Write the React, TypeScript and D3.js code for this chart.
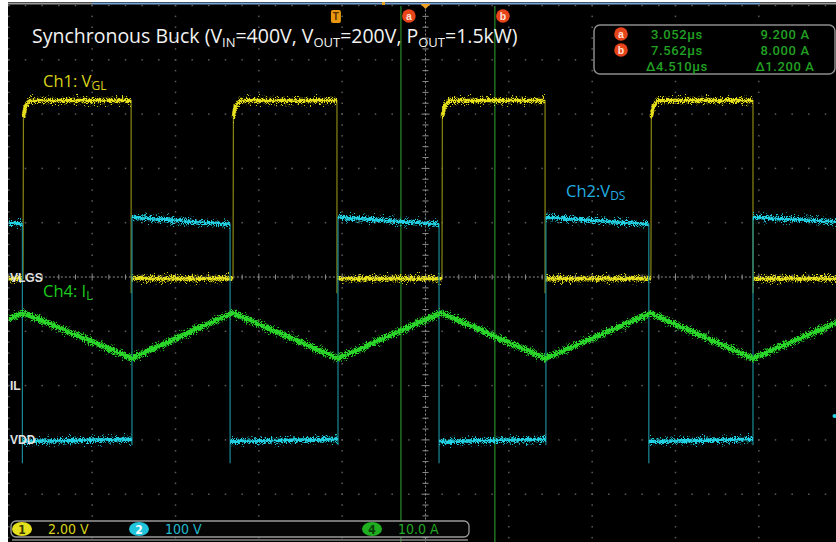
import React from 'react';
import * as d3 from 'd3';

// ---------------- DATA ----------------
// Horizontal: 4 µs/div, 10 divisions, trigger at centre
const timeDomain = [-20, 20];
// Vertical scales (units/div) and ground-marker offsets (div)
const ch1PerDiv = 2;    // V/div
const ch2PerDiv = 100;  // V/div
const ch4PerDiv = 10;   // A/div
const ch1Offset = 0;
const ch2Offset = -3;
const ch4Offset = -2;

// Ch1: V_GL (V) vs time (µs)
const vglT = [-20, -19.32, -19.30, -19.2, -18.97, -14.13, -14.13, -14.12,
  -9.24, -9.22, -9.12, -8.89, -4.25, -4.25, -4.24,
  0.79, 0.81, 0.91, 1.14, 5.74, 5.74, 5.75,
  10.82, 10.84, 10.94, 11.17, 15.72, 15.72, 15.73, 20];
const vglV = [-0.06, -0.06, 5.9, 6.3, 6.5, 6.5, -0.6, -0.06,
  -0.06, 5.9, 6.3, 6.5, 6.5, -0.6, -0.06,
  -0.06, 5.9, 6.3, 6.5, 6.5, -0.6, -0.06,
  -0.06, 5.9, 6.3, 6.5, 6.5, -0.6, -0.06, -0.06];

// Ch2: V_DS (V) vs time (µs)
const vdsT = [-20, -19.35, -19.35, -19.35, -14.09, -14.09, -14.09, -9.38, -9.38, -9.38,
  -4.2, -4.2, -4.2, 0.65, 0.65, 0.65, 5.78, 5.78, 5.78, 10.72, 10.72, 10.72,
  15.72, 15.72, 15.72, 20];
const vdsV = [399, 398, -43, -3, 1, -10, 410, 397, -43, -3,
  1, -10, 410, 397, -43, -3, 1, -10, 410, 397, -43, -3,
  1, -10, 410, 401];

// Ch4: I_L (A) vs time (µs)
const ilT = [-20, -19.3, -14.1, -9.25, -4.2, 0.75, 5.75, 10.8, 15.72, 20];
const ilA = [12.2, 13.4, 5.0, 13.4, 5.0, 13.4, 5.0, 13.3, 5.0, 12.0];

// Cursors
const cursorNames = ['a', 'b'];
const cursorTimes = [3.052, 7.562]; // µs readout
const cursorAmps = [9.2, 8.0];      // A readout
const horizPosition = 4.232;        // µs (readout time at screen centre)
const triggerMarkTime = -4.3;       // µs, "T" marker

// Bottom channel badges
const badgeChannels = ['1', '2', '4'];
const badgeScales = ['2.00 V', '100 V', '10.0 A'];

// ---------------- LAYOUT ----------------
const W = 836, H = 542;
const DX = 83.33, DY = 54.3, CX = 425.5, CY = 277;
const xS = d3.scaleLinear().domain(timeDomain).range([CX - 5 * DX, CX + 5 * DX]);
const yDiv = d3.scaleLinear().domain([-5, 5]).range([CY + 5 * DY, CY - 5 * DY]);
const yCh = (v: number, perDiv: number, off: number) => yDiv(v / perDiv + off);

const YEL = '#e6e01c';
const CYA = '#24d2e4';
const GRN = '#2ad62a';

type P = [number, number];

function Trace({ t, v, perDiv, off, color, edge, width }: any) {
  const pts: P[] = t.map((ti: number, i: number) => [xS(ti), yCh(v[i], perDiv, off)]);
  const line = d3.line();
  const segs: P[][] = [];
  let cur: P[] = [];
  for (let i = 1; i < pts.length; i++) {
    const a = pts[i - 1], b = pts[i];
    if (Math.abs(b[0] - a[0]) >= 1) {
      if (!cur.length) cur.push(a);
      cur.push(b);
    } else {
      if (cur.length) segs.push(cur);
      cur = [];
    }
  }
  if (cur.length) segs.push(cur);
  return (
    <g>
      <path d={line(pts) || ''} stroke={edge} strokeWidth={1.2} fill="none" />
      <g filter="url(#jit1)">
        {segs.map((s, i) => (
          <path key={i} d={line(s) || ''} stroke={color} strokeWidth={width} fill="none" strokeLinejoin="round" />
        ))}
      </g>
      <g filter="url(#jit2)" opacity={0.9}>
        {segs.map((s, i) => (
          <path key={i} d={line(s) || ''} stroke={color} strokeWidth={1.3} fill="none" />
        ))}
      </g>
    </g>
  );
}

function Grid() {
  const dots: JSX.Element[] = [];
  for (let i = 0; i <= 10; i++) {
    const gx = CX + (i - 5) * DX;
    const gy = CY + (i - 5) * DY;
    for (let k = 0; k <= 50; k++) {
      const f = k / 5 - 5;
      if (i !== 5) dots.push(<rect key={`v${i}-${k}`} x={gx - 0.75} y={yDiv(f) - 0.75} width={1.5} height={1.5} fill="#5c5c5c" />);
      if (i !== 5) dots.push(<rect key={`h${i}-${k}`} x={CX + f * DX - 0.75} y={gy - 0.75} width={1.5} height={1.5} fill="#5c5c5c" />);
    }
  }
  const ticks: JSX.Element[] = [];
  for (let k = 0; k <= 50; k++) {
    const f = k / 5 - 5;
    const major = k % 5 === 0;
    const tx = CX + f * DX;
    const ty = yDiv(f);
    ticks.push(<line key={`th${k}`} x1={tx} x2={tx} y1={CY - (major ? 3.5 : 2.5)} y2={CY + (major ? 3.5 : 2.5)} stroke="#8c8c8c" strokeWidth={1} />);
    ticks.push(<line key={`tv${k}`} x1={CX - (major ? 4 : 3)} x2={CX + (major ? 4 : 3)} y1={ty} y2={ty} stroke="#8c8c8c" strokeWidth={1} />);
  }
  return (
    <g>
      {dots}
      <line x1={xS(-20)} x2={W} y1={CY} y2={CY} stroke="#8a8a8a" strokeWidth={1} strokeDasharray="2,2" />
      <line x1={CX} x2={CX} y1={yDiv(5)} y2={H} stroke="#8a8a8a" strokeWidth={1} strokeDasharray="2,2" />
      {ticks}
    </g>
  );
}

function CursorBadge({ cx, cy, label }: any) {
  return (
    <g>
      <circle cx={cx} cy={cy} r={6.8} fill="#e8441a" />
      <text x={cx} y={cy + 3.5} textAnchor="middle" fontFamily="'Liberation Sans', Arial, sans-serif" fontWeight="bold" fontSize={10.5} fill="#ffe2d6">{label}</text>
    </g>
  );
}

export default function App() {
  const cursorX = cursorTimes.map((c) => xS(c - horizPosition));
  const lblFont = "'Open Sans', 'Noto Sans', sans-serif";
  const roFont = "Roboto, 'DejaVu Sans', sans-serif";
  const barFont = "'DejaVu Sans Condensed', 'Liberation Sans Narrow', 'DejaVu Sans', sans-serif";
  const badgeFill = [YEL, '#22c4dc', '#1fae1f'];
  const badgeText = ['#3a3a00', '#ffffff', '#0b3d0b'];
  const badgeTxtCol = ['#d8d21a', '#22b8cc', '#22a822'];
  const badgeX = [22, 139, 372];
  const delta = cursorTimes[1] - cursorTimes[0];
  const dA = cursorAmps[0] - cursorAmps[1];
  return (
    <svg width={W} height={H} style={{ position: 'absolute', left: 0, top: 0 }} xmlns="http://www.w3.org/2000/svg">
      <defs>
        <filter id="jit1" filterUnits="userSpaceOnUse" x={0} y={0} width={W} height={H}>
          <feTurbulence type="fractalNoise" baseFrequency="1.1 1.1" numOctaves={2} seed={4} result="n" />
          <feColorMatrix in="n" type="matrix" values="0 0 0 0 0.5  0 1.6 0 0 -0.3  0 0 0 0 0  0 0 0 0 1" result="m" />
          <feDisplacementMap in="SourceGraphic" in2="m" scale={6} xChannelSelector="R" yChannelSelector="G" />
        </filter>
        <filter id="jit2" filterUnits="userSpaceOnUse" x={0} y={0} width={W} height={H}>
          <feTurbulence type="fractalNoise" baseFrequency="1.5 1.5" numOctaves={1} seed={11} result="n" />
          <feColorMatrix in="n" type="matrix" values="0 0 0 0 0.5  0 2 0 0 -0.5  0 0 0 0 0  0 0 0 0 1" result="m" />
          <feDisplacementMap in="SourceGraphic" in2="m" scale={12} xChannelSelector="R" yChannelSelector="G" />
        </filter>
      </defs>
      <rect x={0} y={0} width={W} height={H} fill="#ffffff" />
      <rect x={8} y={2} width={W - 8} height={H - 2} fill="#000000" />
      {/* record bar */}
      <line x1={8} x2={92} y1={3.5} y2={3.5} stroke="#9a9a9a" strokeWidth={2} />
      <line x1={92} x2={760} y1={3.5} y2={3.5} stroke="#7aa6d6" strokeWidth={2} />
      <line x1={760} x2={W} y1={3.5} y2={3.5} stroke="#9a9a9a" strokeWidth={2} />
      <rect x={382} y={2} width={3} height={3} fill="#e8a020" />

      <Grid />

      {/* cursor lines */}
      {cursorX.map((cx, i) => (
        <line key={i} x1={cx} x2={cx} y1={6} y2={H} stroke="#2a8c2a" strokeWidth={1.2} />
      ))}

      {/* traces */}
      <Trace t={vglT} v={vglV} perDiv={ch1PerDiv} off={ch1Offset} color={YEL} edge="#8a8614" width={3.6} />
      <Trace t={vdsT} v={vdsV} perDiv={ch2PerDiv} off={ch2Offset} color={CYA} edge="#1a8a96" width={3.6} />
      <Trace t={ilT} v={ilA} perDiv={ch4PerDiv} off={ch4Offset} color={GRN} edge="#1a8a1a" width={5.2} />

      {/* top markers */}
      <path d={`M${CX - 5},4 L${CX + 5},4 L${CX},9 Z`} fill="#f0a020" />
      <g>
        <rect x={xS(triggerMarkTime) - 5} y={10} width={10} height={13} rx={2} fill="#e8980e" />
        <text x={xS(triggerMarkTime)} y={20} textAnchor="middle" fontFamily="'Liberation Sans', Arial, sans-serif" fontWeight="bold" fontSize={10} fill="#5a3000">T</text>
      </g>
      {cursorX.map((cx, i) => (
        <CursorBadge key={i} cx={cx + 8} cy={16} label={cursorNames[i]} />
      ))}

      {/* title */}
      <text x={32} y={42.5} fontFamily={lblFont} fontSize={19.5} fill="#f2f2f2">
        Synchronous Buck (V<tspan fontSize={13} dy={4}>IN</tspan><tspan dy={-4}>=400V, V</tspan><tspan fontSize={13} dy={4}>OUT</tspan><tspan dy={-4}>=200V, P</tspan><tspan fontSize={13} dy={4}>OUT</tspan><tspan dy={-4}>=1.5kW)</tspan>
      </text>

      {/* channel labels */}
      <text x={43} y={87} fontFamily={lblFont} fontSize={16.5} fill="#d8d21a">
        Ch1: V<tspan fontSize={12} dy={3}>GL</tspan>
      </text>
      <text x={566} y={197} fontFamily={lblFont} fontSize={16.5} fill="#22aee0">
        Ch2:V<tspan fontSize={12} dy={3}>DS</tspan>
      </text>
      <text x={43} y={297} fontFamily={lblFont} fontSize={16.5} fill="#1ccc1c">
        Ch4: I<tspan fontSize={12} dy={3}>L</tspan>
      </text>

      {/* ground markers */}
      {[['VLGS', yCh(0, ch1PerDiv, ch1Offset)], ['IL', yCh(0, ch4PerDiv, ch4Offset)], ['VDD', yCh(0, ch2PerDiv, ch2Offset)]].map(([s, yy]: any) => (
        <text key={s} x={10} y={yy + 4.5} fontFamily="'Liberation Sans', Arial, sans-serif" fontWeight="bold" fontSize={12} fill="#e2e2e2">{s}</text>
      ))}
      <circle cx={834.5} cy={416} r={2} fill={CYA} />

      {/* readout box */}
      <rect x={594} y={25} width={241} height={49} rx={6} fill="#000" stroke="#8c8c8c" strokeWidth={1.5} />
      {cursorNames.map((n, i) => (
        <g key={n}>
          <CursorBadge cx={621} cy={34 + i * 16} label={n} />
          <text x={677} y={38.5 + i * 16} textAnchor="middle" fontFamily={roFont} fontWeight={500} fontSize={13} letterSpacing={0.6} fill="#22a022">{cursorTimes[i].toFixed(3)}µs</text>
          <text x={785} y={38.5 + i * 16} textAnchor="middle" fontFamily={roFont} fontWeight={500} fontSize={13} letterSpacing={0.6} fill="#22a022">{cursorAmps[i].toFixed(3)} A</text>
        </g>
      ))}
      <text x={677} y={70.5} textAnchor="middle" fontFamily={roFont} fontWeight={500} fontSize={13} letterSpacing={0.6} fill="#22a022">Δ{delta.toFixed(3)}µs</text>
      <text x={785} y={70.5} textAnchor="middle" fontFamily={roFont} fontWeight={500} fontSize={13} letterSpacing={0.6} fill="#22a022">Δ{dA.toFixed(3)} A</text>

      {/* bottom bar */}
      <rect x={11} y={521} width={458} height={16} rx={5} fill="#050505" stroke="#9a9a9a" strokeWidth={1.3} />
      <line x1={12} x2={468} y1={540} y2={540} stroke="#8a8a8a" strokeWidth={1.5} />
      {badgeChannels.map((c, i) => (
        <g key={c}>
          <ellipse cx={badgeX[i]} cy={529} rx={10} ry={7} fill={badgeFill[i]} />
          <text x={badgeX[i]} y={533.5} textAnchor="middle" fontFamily={barFont} fontWeight="bold" fontSize={12} fill={badgeText[i]}>{c}</text>
          <text x={badgeX[i] + 26} y={534} fontFamily={barFont} fontSize={14} fill={badgeTxtCol[i]}>{badgeScales[i]}</text>
        </g>
      ))}
    </svg>
  );
}
